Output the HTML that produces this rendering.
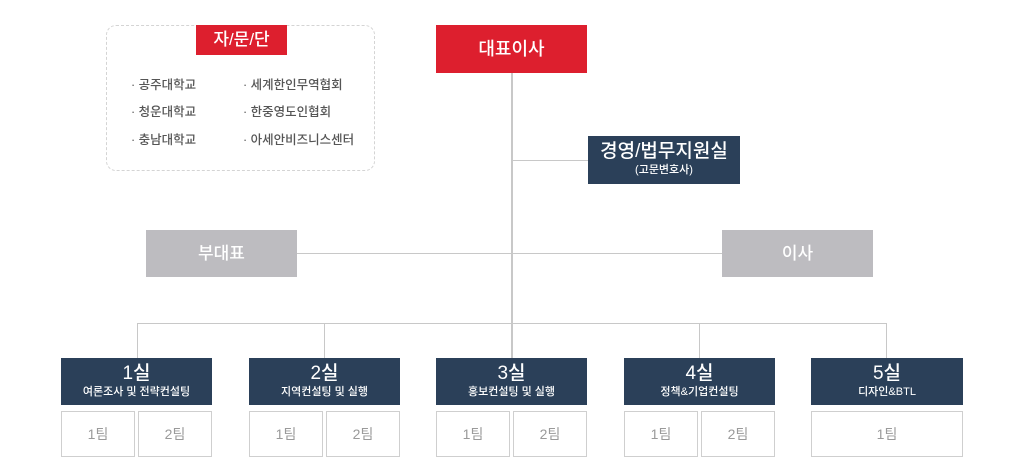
<!DOCTYPE html>
<html><head><meta charset="utf-8"><style>
body{margin:0;width:1024px;height:474px;background:#fff;position:relative;overflow:hidden;font-family:"Liberation Sans","Noto Sans CJK KR",sans-serif}
div{position:absolute;box-sizing:border-box}
.l{background:#c8c8c8}
.n{background:#2b4059;color:#fff;text-align:center}
.g{background:#bdbcc0;color:#fff;text-align:center;font-size:17px;line-height:47px;font-weight:500}
.t{border:1px solid #cfcfcf;background:#fff;color:#9a9a9a;text-align:center;font-size:14px;line-height:44px}
.n b{display:block;font-weight:500;font-size:19px;line-height:20px;margin-top:6px}
.n i{display:block;font-style:normal;font-size:11px;line-height:14px;margin-top:1px;font-weight:500}
.a{font-size:12.5px;color:#555;line-height:14px;font-weight:500}
</style></head><body>
<div style="left:106px;top:25px;width:269px;height:146px;border:1px dashed #d4d4d4;border-radius:10px"></div>
<div style="left:196px;top:25px;width:91px;height:30px;background:#dd1f2e;color:#fff;font-size:17px;line-height:30px;text-align:center;font-weight:500">자/문/단</div>
<div class="a" style="left:131px;top:78px">· 공주대학교</div>
<div class="a" style="left:131px;top:105px">· 청운대학교</div>
<div class="a" style="left:131px;top:133px">· 충남대학교</div>
<div class="a" style="left:243px;top:78px">· 세계한인무역협회</div>
<div class="a" style="left:243px;top:105px">· 한중영도인협회</div>
<div class="a" style="left:243px;top:133px">· 아세안비즈니스센터</div>

<div class="l" style="left:511px;top:73px;width:2px;height:285px"></div>
<div class="l" style="left:512px;top:160px;width:76px;height:1px"></div>
<div class="l" style="left:297px;top:253px;width:425px;height:1px"></div>
<div class="l" style="left:137px;top:323px;width:750px;height:1px"></div>
<div class="l" style="left:137px;top:323px;width:1px;height:35px"></div>
<div class="l" style="left:324px;top:323px;width:1px;height:35px"></div>
<div class="l" style="left:699px;top:323px;width:1px;height:35px"></div>
<div class="l" style="left:886px;top:323px;width:1px;height:35px"></div>

<div style="left:436px;top:25px;width:151px;height:48px;background:#dd1f2e;color:#fff;font-size:18px;line-height:48px;text-align:center;font-weight:500">대표이사</div>
<div class="n" style="left:588px;top:136px;width:152px;height:48px"><b>경영/법무지원실</b><i>(고문변호사)</i></div>
<div class="g" style="left:146px;top:230px;width:151px;height:47px">부대표</div>
<div class="g" style="left:722px;top:230px;width:151px;height:47px">이사</div>

<div class="n" style="left:61px;top:358px;width:151px;height:47px"><b>1실</b><i>여론조사 및 전략컨설팅</i></div>
<div class="n" style="left:249px;top:358px;width:151px;height:47px"><b>2실</b><i>지역컨설팅 및 실행</i></div>
<div class="n" style="left:436px;top:358px;width:151px;height:47px"><b>3실</b><i>홍보컨설팅 및 실행</i></div>
<div class="n" style="left:624px;top:358px;width:151px;height:47px"><b>4실</b><i>정책&amp;기업컨설팅</i></div>
<div class="n" style="left:811px;top:358px;width:152px;height:47px"><b>5실</b><i>디자인&amp;BTL</i></div>

<div class="t" style="left:61px;top:411px;width:74px;height:46px">1팀</div>
<div class="t" style="left:138px;top:411px;width:74px;height:46px">2팀</div>
<div class="t" style="left:249px;top:411px;width:74px;height:46px">1팀</div>
<div class="t" style="left:326px;top:411px;width:74px;height:46px">2팀</div>
<div class="t" style="left:436px;top:411px;width:74px;height:46px">1팀</div>
<div class="t" style="left:513px;top:411px;width:74px;height:46px">2팀</div>
<div class="t" style="left:624px;top:411px;width:74px;height:46px">1팀</div>
<div class="t" style="left:701px;top:411px;width:74px;height:46px">2팀</div>
<div class="t" style="left:811px;top:411px;width:152px;height:46px">1팀</div>
</body></html>
